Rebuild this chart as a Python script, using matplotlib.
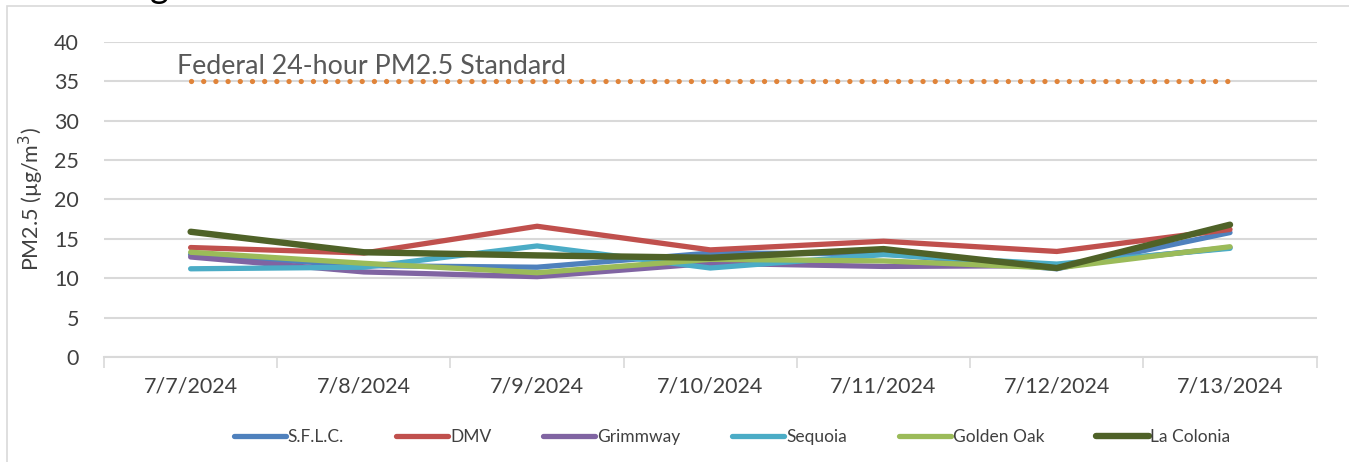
import numpy as np
import matplotlib
matplotlib.use("Agg")
import matplotlib.pyplot as plt
from matplotlib.patches import Rectangle

plt.rcParams['font.family'] = ['Lato', 'DejaVu Sans']

# dates along the x axis
dates = ['7/7/2024', '7/8/2024', '7/9/2024', '7/10/2024', '7/11/2024', '7/12/2024', '7/13/2024']

# daily PM2.5 per site (ug/m3)
sflc = [13.0, 11.6, 11.4, 13.2, 13.1, 11.2, 15.8]
dmv = [13.9, 13.2, 16.6, 13.6, 14.7, 13.4, 16.2]
grimmway = [12.7, 10.8, 10.2, 11.9, 11.5, 11.6, 13.9]
sequoia = [11.2, 11.4, 14.1, 11.3, 13.0, 11.8, 13.8]
golden_oak = [13.3, 11.9, 10.7, 12.4, 12.2, 11.3, 14.0]
la_colonia = [15.9, 13.3, 12.9, 12.6, 13.7, 11.3, 16.8]
standard = [35, 35, 35, 35, 35, 35, 35]

names = ['S.F.L.C.', 'DMV', 'Grimmway', 'Sequoia', 'Golden Oak', 'La Colonia']
series = [sflc, dmv, grimmway, sequoia, golden_oak, la_colonia]
colors = ['#4f81bd', '#c0504d', '#8064a2', '#4bacc6', '#9bbb59', '#4f6228']
widths = [3.8, 3.8, 3.8, 3.8, 3.8, 4.6]

fig = plt.figure(figsize=(13.49, 4.62), dpi=100)
ax = fig.add_axes([0.0771, 0.2273, 0.8989, 0.6818])

# outer chart frame (cropped on the right / bottom)
fig.patches.append(Rectangle((7 / 1349, -0.1), 1.2, 1 - 6 / 462 + 0.1,
                             transform=fig.transFigure, fill=False,
                             edgecolor='#d9d9d9', lw=1.2))
# cut-off title descender at the very top
fig.text(150 / 1349, 1 + 2 / 462, 'g', fontsize=26, color='black', va='baseline')

x = np.arange(len(dates))
ax.plot(x, standard, color='#e0843a', lw=3.8, linestyle=(0, (0.01, 2.3)),
        dash_capstyle='round', zorder=3)
ax.text(-0.08, 35.3, 'Federal 24-hour PM2.5 Standard', fontsize=19.3, color='#595959',
        va='bottom', ha='left')

for vals, name, c, w in zip(series, names, colors, widths):
    ax.plot(x, vals, color=c, lw=w, label=name, solid_capstyle='round',
            solid_joinstyle='miter', zorder=4)

ax.set_xlim(-0.5, len(dates) - 0.5)
ax.set_ylim(0, 40)
ax.set_yticks(np.arange(0, 41, 5))
ax.set_xticks(x)
ax.set_xticklabels(dates)
ax.set_xticks(np.arange(-0.5, len(dates), 1), minor=True)
ax.tick_params(axis='x', which='major', length=0, pad=14, labelsize=15.5, labelcolor='#404040')
ax.tick_params(axis='x', which='minor', length=8, color='#d9d9d9', width=1.2)
ax.tick_params(axis='y', length=0, pad=18, labelsize=15.5, labelcolor='#404040')
ax.grid(axis='y', color='#d9d9d9', lw=1.5, zorder=0)
ax.set_axisbelow(True)
for s in ['top', 'right', 'left']:
    ax.spines[s].set_visible(False)
ax.spines['bottom'].set_color('#d9d9d9')
ax.spines['bottom'].set_linewidth(1.5)

ax.set_ylabel('PM2.5 (µg/m$^3$)', fontsize=15.5, color='#404040', labelpad=6)

leg = ax.legend(loc='upper center', bbox_to_anchor=(0.518, -0.18), ncol=6, frameon=False,
                fontsize=12.5, handlelength=3.0, columnspacing=3.0, handletextpad=0.1)
for t in leg.get_texts():
    t.set_color('#404040')
for h in leg.get_lines():
    h.set_solid_capstyle('round')

fig.savefig('out.png', dpi=100)
